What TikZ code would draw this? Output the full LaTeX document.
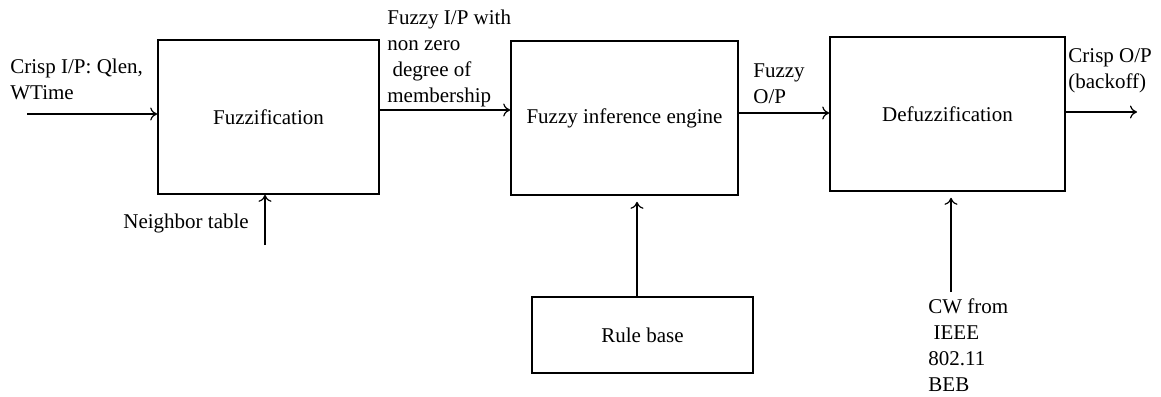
\documentclass[tikz,border=0pt]{standalone}
\usepackage{fontspec}
\setmainfont{Liberation Serif}
\usetikzlibrary{positioning,arrows.meta}

\begin{document}
\begin{tikzpicture}[x=0.5pt,y=-0.5pt,font=\fontsize{10.5}{13}\selectfont,
	block/.style={draw,line width=0.8pt,inner sep=0pt,minimum height=77pt},
	lbl/.style={align=left,anchor=base west,inner sep=0pt}]
			\useasboundingbox (0,0) rectangle (1161,396);
			% blocks
			\node[block,minimum width=110.5pt] (fuzz) at (268.5,117) {Fuzzification};
			\node[block,minimum width=113.5pt] (fie) at (624.5,118) {Fuzzy inference engine};
			\node[block,minimum width=117.5pt] (defuzz) at (947.5,114) {Defuzzification};
			\node[block,minimum width=110.5pt,minimum height=38pt] (rules) at (642.5,335) {Rule base};
			% labels (placed at the baseline of their last line)
			\node[lbl] (crispin) at (10,99) {Crisp I/P: Qlen,\\WTime};
			\node[lbl] (nbr) at (123,228) {Neighbor table};
			\node[lbl] (fuzzyin) at (387,102) {Fuzzy I/P with\\non zero\\\hspace{0.25em}degree of\\membership};
			\node[lbl] (fuzzyout) at (753,103) {Fuzzy\\O/P};
			\node[lbl] (crispout) at (1068,88) {Crisp O/P\\(backoff)};
			\node[lbl] (cwfrom) at (928,391) {CW from\\\hspace{0.25em}IEEE\\802.11\\BEB};
			% connector ends
			\coordinate (in) at (27,114);
			\coordinate (mid1) at (0,110);
			\coordinate (mid2) at (0,113);
			\coordinate (out) at (1137,112);
			\coordinate (nbtail) at (265,245);
			\coordinate (rtail) at (637,297);
			\coordinate (cwtail) at (951,292);
			\path[-{To[length=3.5pt,width=6.5pt]},line width=0.6pt]
			(in) edge (in -| fuzz.west)
			(mid1 -| fuzz.east) edge (mid1 -| fie.west)
			(mid2 -| fie.east) edge (mid2 -| defuzz.west)
			(out -| defuzz.east) edge (out)
			(nbtail) edge (nbtail |- fuzz.south)
			(rtail) edge ([yshift=-3pt]rtail |- fie.south)
			(cwtail) edge ([yshift=-3pt]cwtail |- defuzz.south);
		\end{tikzpicture}
\end{document}
